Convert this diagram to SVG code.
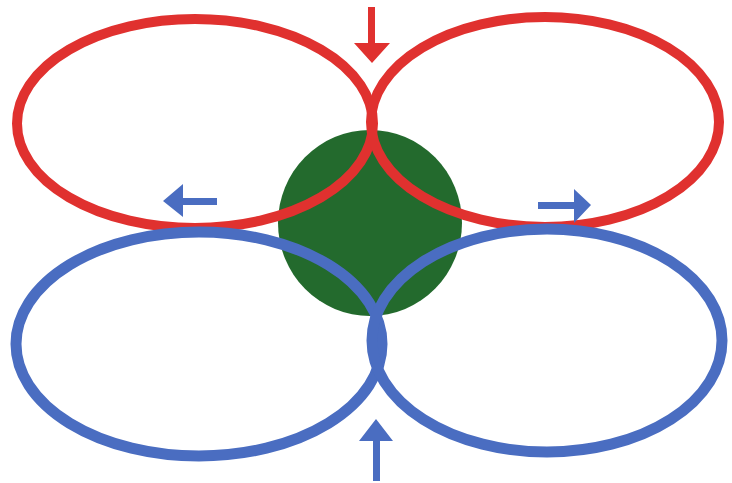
<svg xmlns="http://www.w3.org/2000/svg" width="732" height="483" viewBox="0 0 732 483">
<style>
.red{fill:none;stroke:#E0312F;stroke-width:10}
.blue{fill:none;stroke:#4A6DC1;stroke-width:11}
.rf{fill:#E0312F}
.bf{fill:#4A6DC1}
</style>
<rect width="732" height="483" fill="#FFFFFF"/>
<g id="center"><ellipse cx="370" cy="223" rx="92" ry="93" fill="#236A2D"/></g>
<g id="red-left"><ellipse class="red" cx="195" cy="123.5" rx="178" ry="104.5"/></g>
<g id="red-right"><ellipse class="red" cx="545" cy="122" rx="174" ry="105"/></g>
<g id="blue-left"><ellipse class="blue" cx="199" cy="344" rx="183" ry="112"/></g>
<g id="blue-right"><ellipse class="blue" cx="547" cy="340.5" rx="175" ry="111.5"/></g>
<g id="connectors">
<path class="rf" d="M368,7 H375 V43 H390 L372,63 L354,43 H368 Z"/>
<path class="bf" d="M217,198 V205 H183 V217 L163,201 L183,184 V198 Z"/>
<path class="bf" d="M538,202 V209 H574 V223 L591,205 L574,189 V202 Z"/>
<path class="bf" d="M373,481 H380 V441 H393 L376,419 L359,441 H373 Z"/>
</g>
</svg>
